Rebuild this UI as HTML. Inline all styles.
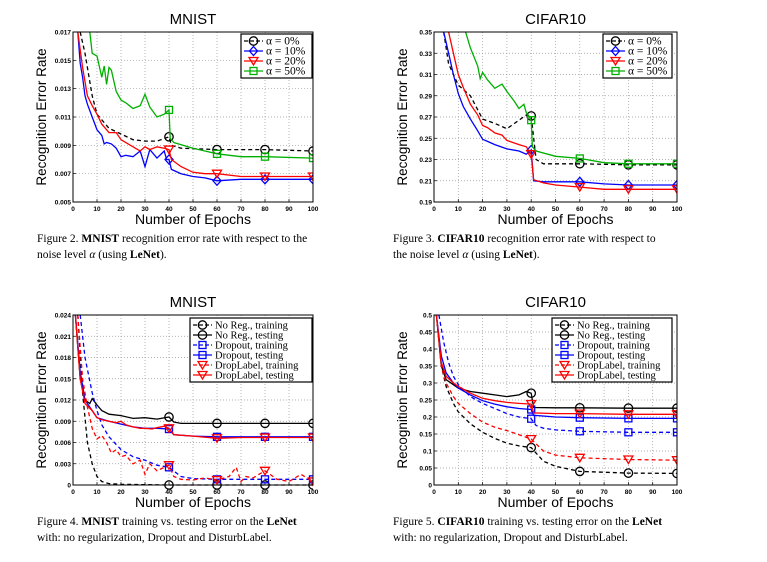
<!DOCTYPE html>
<html><head><meta charset="utf-8"><style>
body{margin:0;background:#fff;width:767px;height:557px;overflow:hidden;font-family:"Liberation Sans",sans-serif}
svg text{font-family:"Liberation Sans",sans-serif}
svg text.ser{font-family:"Liberation Serif",serif}
.cap{font-family:"Liberation Serif",serif;font-size:11.5px}
</style></head><body>
<svg id="s" width="767" height="557">
<text class="cap ser" x="37" y="242">Figure 2.  <tspan font-weight="bold">MNIST</tspan> recognition error rate with respect to the</text>
<text class="cap ser" x="37" y="258">noise level <tspan font-style="italic">α</tspan> (using <tspan font-weight="bold">LeNet</tspan>).</text>
<text class="cap ser" x="393" y="242">Figure 3.  <tspan font-weight="bold">CIFAR10</tspan> recognition error rate with respect to</text>
<text class="cap ser" x="393" y="258">the noise level <tspan font-style="italic">α</tspan> (using <tspan font-weight="bold">LeNet</tspan>).</text>
<text class="cap ser" x="37" y="525">Figure 4.  <tspan font-weight="bold">MNIST</tspan> training vs. testing error on the <tspan font-weight="bold">LeNet</tspan></text>
<text class="cap ser" x="37" y="541">with: no regularization, Dropout and DisturbLabel.</text>
<text class="cap ser" x="393" y="525">Figure 5.  <tspan font-weight="bold">CIFAR10</tspan> training vs. testing error on the <tspan font-weight="bold">LeNet</tspan></text>
<text class="cap ser" x="393" y="541">with: no regularization, Dropout and DisturbLabel.</text>
</svg>
<script>
// ---- Chart 1 data (MNIST, noise level) ----
const c1Ticks=["0.005","0.007","0.009","0.011","0.013","0.015","0.017"];
const c1x0=[3,5,8,10,15,20,25,30,35,40,41,45,60,80,100];
const c1y0=[0.017,0.0155,0.0125,0.0112,0.0102,0.0098,0.0094,0.0093,0.0093,0.0096,0.0090,0.0088,0.0087,0.0087,0.0086];
const c1x10=[2,3,4,5,6,8,10,12,13,14,16,18,20,22,25,28,30,32,35,38,39,40,41,45,50,55,60,70,80,100];
const c1y10=[0.017,0.0148,0.0138,0.0125,0.0119,0.011,0.0101,0.0097,0.0091,0.0092,0.0091,0.0088,0.0082,0.0083,0.0082,0.0086,0.0075,0.0087,0.0081,0.0086,0.0080,0.0080,0.0073,0.0070,0.0068,0.0067,0.0065,0.0066,0.0066,0.0066];
const c1x20=[2,4,6,8,10,12,15,18,20,25,28,30,32,35,38,40,41,45,50,55,60,70,80,100];
const c1y20=[0.017,0.0145,0.0125,0.0118,0.0112,0.0105,0.0099,0.0099,0.0094,0.0089,0.0086,0.0089,0.0087,0.0089,0.0088,0.0087,0.0080,0.0075,0.0071,0.0070,0.0070,0.0068,0.0068,0.0068];
const c1x50=[7,8,10,12,13,14,15,16,18,20,22,25,28,30,32,35,38,40,40.5,42,50,55,60,70,80,100];
const c1y50=[0.017,0.0155,0.0153,0.0138,0.0146,0.0133,0.0145,0.0143,0.0128,0.0122,0.0120,0.0116,0.0118,0.0126,0.0117,0.0110,0.0112,0.0115,0.0095,0.0092,0.0088,0.0086,0.0084,0.0082,0.0082,0.0081];
// ---- Chart 2 data (CIFAR10, noise level) ----
const c2Ticks=["0.19","0.21","0.23","0.25","0.27","0.29","0.31","0.33","0.35"];
const c2x0=[4,6,10,15,20,25,30,35,38,40,42,45,60,80,100];
const c2y0=[0.35,0.32,0.300,0.290,0.268,0.264,0.259,0.267,0.272,0.271,0.230,0.226,0.226,0.225,0.225];
const c2x10=[4,6,8,10,12,15,18,20,22,25,30,35,38,40,41,45,50,60,70,80,100];
const c2y10=[0.35,0.33,0.31,0.292,0.280,0.268,0.257,0.249,0.247,0.244,0.240,0.238,0.235,0.239,0.210,0.209,0.209,0.209,0.207,0.206,0.206];
const c2x20=[6,8,10,12,15,18,20,22,25,28,30,35,38,40,41,45,50,60,70,80,100];
const c2y20=[0.35,0.33,0.31,0.298,0.282,0.272,0.262,0.260,0.255,0.253,0.248,0.244,0.242,0.235,0.211,0.208,0.206,0.204,0.202,0.202,0.202];
const c2x50=[13,15,18,19,20,22,25,28,30,33,35,37,38,40,40.5,42,50,60,70,80,100];
const c2y50=[0.35,0.335,0.318,0.306,0.312,0.305,0.297,0.301,0.294,0.285,0.278,0.282,0.274,0.267,0.242,0.238,0.233,0.231,0.227,0.226,0.226];
// ---- Chart 3 data (MNIST train vs test) ----
const c3Ticks=["0","0.003","0.006","0.009","0.012","0.015","0.018","0.021","0.024"];
const c3xNRtr=[2,4,6,8,10,12,15,20,40,60,80,100];
const c3yNRtr=[0.024,0.013,0.006,0.003,0.0012,0.0005,0.0002,0.0001,0,0,0,0];
const c3xNRte=[1,3,5,7,8,10,12,15,20,25,30,35,40,42,45,60,80,100];
const c3yNRte=[0.024,0.015,0.012,0.0115,0.0122,0.0113,0.0105,0.010,0.0098,0.0094,0.0095,0.0093,0.0096,0.0089,0.0087,0.0087,0.0087,0.0087];
const c3xDOtr=[3,5,8,10,12,15,20,25,30,35,40,45,50,60,70,80,90,100];
const c3yDOtr=[0.024,0.018,0.013,0.0105,0.0085,0.0068,0.005,0.004,0.0035,0.0028,0.0025,0.0012,0.0009,0.0008,0.0008,0.0008,0.0008,0.0008];
const c3xDOte=[1,3,5,8,10,12,15,20,25,30,35,40,42,50,60,80,100];
const c3yDOte=[0.024,0.016,0.012,0.0105,0.0095,0.0093,0.009,0.0086,0.0082,0.008,0.008,0.0079,0.0071,0.0069,0.0068,0.0068,0.0068];
const c3xDLtr=[2,4,6,8,10,12,14,16,18,20,22,25,28,30,32,35,38,40,42,45,50,55,60,65,68,70,72,75,80,85,90,95,100];
const c3yDLtr=[0.024,0.015,0.011,0.008,0.0065,0.007,0.006,0.0045,0.005,0.004,0.0042,0.003,0.0035,0.0015,0.003,0.002,0.0025,0.0028,0.0012,0.0008,0.0007,0.001,0.0007,0.0012,0.0025,0.0005,0.0012,0.001,0.002,0.0008,0.0005,0.0015,0.0005];
const c3xDLte=[1,3,5,8,10,12,15,18,20,22,25,28,30,33,35,38,40,42,50,60,70,80,100];
const c3yDLte=[0.024,0.015,0.0115,0.0105,0.0095,0.0092,0.0090,0.0088,0.0090,0.0085,0.0082,0.0080,0.0080,0.0079,0.0081,0.0083,0.0080,0.0071,0.0069,0.0066,0.0067,0.0067,0.0067];
// ---- Chart 4 data (CIFAR10 train vs test) ----
const c4Ticks=["0","0.05","0.1","0.15","0.2","0.25","0.3","0.35","0.4","0.45","0.5"];
const c4xNRtr=[1,3,5,8,10,15,20,25,30,35,40,45,50,60,80,100];
const c4yNRtr=[0.5,0.35,0.29,0.24,0.215,0.18,0.155,0.137,0.123,0.115,0.11,0.07,0.055,0.04,0.035,0.034];
const c4xNRte=[1,3,5,8,10,15,20,25,30,35,38,40,41,50,60,80,100];
const c4yNRte=[0.5,0.35,0.31,0.295,0.285,0.275,0.27,0.265,0.26,0.265,0.275,0.27,0.228,0.227,0.227,0.226,0.226];
const c4xDOtr=[2,4,6,8,10,15,20,25,30,35,40,42,45,50,60,80,100];
const c4yDOtr=[0.5,0.42,0.36,0.32,0.295,0.26,0.24,0.225,0.21,0.2,0.195,0.175,0.167,0.162,0.158,0.155,0.155];
const c4xDOte=[1,3,5,8,10,15,20,25,30,35,40,41,50,60,80,100];
const c4yDOte=[0.5,0.38,0.33,0.3,0.285,0.265,0.248,0.238,0.23,0.225,0.222,0.205,0.2,0.198,0.196,0.196];
const c4xDLtr=[1,3,5,8,10,15,20,25,30,35,40,45,50,60,80,100];
const c4yDLtr=[0.5,0.35,0.3,0.26,0.24,0.21,0.185,0.17,0.16,0.148,0.135,0.1,0.088,0.08,0.075,0.073];
const c4xDLte=[1,3,5,8,10,15,20,25,30,35,40,41,50,60,80,100];
const c4yDLte=[0.5,0.36,0.32,0.30,0.29,0.27,0.255,0.248,0.243,0.24,0.238,0.212,0.21,0.21,0.208,0.208];
const xTicks=[0,10,20,30,40,50,60,70,80,90,100];
const markerX=[40,60,80,100];

const NS="http://www.w3.org/2000/svg";
const svg=document.getElementById('s');
function mk(tag,attrs,parent){const e=document.createElementNS(NS,tag);for(const k in attrs)e.setAttribute(k,attrs[k]);(parent||svg).appendChild(e);return e;}
function interp(xs,ys,x){for(let i=1;i<xs.length;i++){if(x<=xs[i]){const t=(x-xs[i-1])/(xs[i]-xs[i-1]);return ys[i-1]+t*(ys[i]-ys[i-1]);}}return ys[ys.length-1];}
function marker(g,type,cx,cy,color){
  let e;
  if(type==='o'){e=mk('circle',{cx:cx,cy:cy,r:4.2,fill:'none',stroke:color,'stroke-width':1.3},g);}
  else if(type==='d'){e=mk('polygon',{points:`${cx},${cy-4.5} ${cx+4},${cy} ${cx},${cy+4.5} ${cx-4},${cy}`,fill:'none',stroke:color,'stroke-width':1.3},g);}
  else if(type==='v'){e=mk('polygon',{points:`${cx-4.5},${cy-3.5} ${cx+4.5},${cy-3.5} ${cx},${cy+4}`,fill:'none',stroke:color,'stroke-width':1.3},g);}
  else {e=mk('rect',{x:cx-3.5,y:cy-3.5,width:7,height:7,fill:'none',stroke:color,'stroke-width':1.3},g);}
  return e;
}
function chart(o){
  const g=mk('g',{});
  
  
  const L=o.L,R=o.R,T=o.T,B=o.B;
  const sx=v=>L+(v/100)*(R-L);
  const sy=v=>B-(v-o.ymin)/(o.ymax-o.ymin)*(B-T);
  const title=mk('text',{x:(L+R)/2,y:T-8,'text-anchor':'middle','font-size':15},g);title.textContent=o.title;
  
  
  mk('rect',{x:L,y:T,width:R-L,height:B-T,fill:'#fff'},g);
  xTicks.forEach(t=>{
    const x=sx(t);
    if(t>0&&t<100)mk('line',{x1:x,y1:T,x2:x,y2:B,stroke:'#999','stroke-width':0.7,'stroke-dasharray':'1,2'},g);
    mk('line',{x1:x,y1:B,x2:x,y2:B-3,stroke:'#000','stroke-width':0.7},g);
    const tx=mk('text',{x:x,y:B+9,'text-anchor':'middle','font-size':6.5,'font-weight':'bold'},g);tx.textContent=t;
    
    
  });
  o.ticks.forEach(lab=>{
    const v=parseFloat(lab);const y=sy(v);
    if(v>o.ymin&&v<o.ymax)mk('line',{x1:L,y1:y,x2:R,y2:y,stroke:'#999','stroke-width':0.7,'stroke-dasharray':'1,2'},g);
    mk('line',{x1:L,y1:y,x2:L+3,y2:y,stroke:'#000','stroke-width':0.7},g);
    const ty=mk('text',{x:L-2,y:y+2.5,'text-anchor':'end','font-size':6.5,'font-weight':'bold'},g);ty.textContent=lab;
    
    
  });
  const cp=mk('clipPath',{id:o.name+'-clip'},g);mk('rect',{x:L,y:T,width:R-L,height:B-T+5},cp);
  const pg=mk('g',{'clip-path':`url(#${o.name}-clip)`},g);
  o.series.forEach(s=>{
    const pts=s.x.map((x,i)=>sx(x).toFixed(1)+','+sy(s.y[i]).toFixed(1)).join(' ');
    const pl=mk('polyline',{points:pts,fill:'none',stroke:s.c,'stroke-width':1.3,'stroke-dasharray':s.dash?'4,3':'none'},pg);
    
    
    markerX.forEach(mx=>{
      const m=marker(pg,s.m,sx(mx),sy(interp(s.x,s.y,mx)),s.c);
      
      
    });
  });
  mk('rect',{x:L,y:T,width:R-L,height:B-T,fill:'none',stroke:'#000','stroke-width':1},g);
  const xl=mk('text',{x:(L+R)/2,y:B+22,'text-anchor':'middle','font-size':14},g);xl.textContent='Number of Epochs';
  
  
  const yl=mk('text',{x:0,y:0,'text-anchor':'middle','font-size':13.5,transform:`translate(${L-27},${(T+B)/2}) rotate(-90)`},g);yl.textContent='Recognition Error Rate';
  
  
  const lg=mk('g',{},g);
  
  
  const lh=o.series.length*o.lstep+4;
  mk('rect',{x:o.lx,y:o.ly,width:o.lw,height:lh,fill:'#fff',stroke:'#000','stroke-width':1.2},lg);
  o.series.forEach((s,i)=>{
    const y=o.ly+7+i*o.lstep;
    const le=mk('g',{},lg);
    
    
    mk('line',{x1:o.lx+3,y1:y,x2:o.lx+22,y2:y,stroke:s.c,'stroke-width':1.3,'stroke-dasharray':s.dash?'4,2':'none'},le);
    marker(le,s.m,o.lx+12.5,y,s.c);
    const t=mk('text',{x:o.lx+25,y:y+3.5,'font-size':o.lfs,'class':'ser'},le);
    t.textContent=s.label;
  });
}
chart({name:'chart-mnist-noise',title:'MNIST',L:73,R:313,T:32,B:202,ymin:0.005,ymax:0.017,ticks:c1Ticks,lx:241,ly:34,lw:71,lstep:10,lfs:11.5,
 series:[{id:'a0',label:'α = 0%',x:c1x0,y:c1y0,c:'#000',dash:1,m:'o'},{id:'a10',label:'α = 10%',x:c1x10,y:c1y10,c:'#0000ff',m:'d'},{id:'a20',label:'α = 20%',x:c1x20,y:c1y20,c:'#ff0000',m:'v'},{id:'a50',label:'α = 50%',x:c1x50,y:c1y50,c:'#00b000',m:'s'}]});
chart({name:'chart-cifar10-noise',title:'CIFAR10',L:434,R:677,T:32,B:202,ymin:0.19,ymax:0.35,ticks:c2Ticks,lx:603,ly:34,lw:69,lstep:10,lfs:11.5,
 series:[{id:'a0',label:'α = 0%',x:c2x0,y:c2y0,c:'#000',dash:1,m:'o'},{id:'a10',label:'α = 10%',x:c2x10,y:c2y10,c:'#0000ff',m:'d'},{id:'a20',label:'α = 20%',x:c2x20,y:c2y20,c:'#ff0000',m:'v'},{id:'a50',label:'α = 50%',x:c2x50,y:c2y50,c:'#00b000',m:'s'}]});
chart({name:'chart-mnist-train-test',title:'MNIST',L:73,R:313,T:315,B:485,ymin:0,ymax:0.024,ticks:c3Ticks,lx:190,ly:318,lw:122,lstep:10,lfs:10.5,
 series:[{id:'noreg-train',label:'No Reg., training',x:c3xNRtr,y:c3yNRtr,c:'#000',dash:1,m:'o'},{id:'noreg-test',label:'No Reg., testing',x:c3xNRte,y:c3yNRte,c:'#000',m:'o'},{id:'dropout-train',label:'Dropout, training',x:c3xDOtr,y:c3yDOtr,c:'#0000ff',dash:1,m:'s'},{id:'dropout-test',label:'Dropout, testing',x:c3xDOte,y:c3yDOte,c:'#0000ff',m:'s'},{id:'droplabel-train',label:'DropLabel, training',x:c3xDLtr,y:c3yDLtr,c:'#ff0000',dash:1,m:'v'},{id:'droplabel-test',label:'DropLabel, testing',x:c3xDLte,y:c3yDLte,c:'#ff0000',m:'v'}]});
chart({name:'chart-cifar10-train-test',title:'CIFAR10',L:434,R:677,T:315,B:485,ymin:0,ymax:0.5,ticks:c4Ticks,lx:552,ly:318,lw:120,lstep:10,lfs:10.5,
 series:[{id:'noreg-train',label:'No Reg., training',x:c4xNRtr,y:c4yNRtr,c:'#000',dash:1,m:'o'},{id:'noreg-test',label:'No Reg., testing',x:c4xNRte,y:c4yNRte,c:'#000',m:'o'},{id:'dropout-train',label:'Dropout, training',x:c4xDOtr,y:c4yDOtr,c:'#0000ff',dash:1,m:'s'},{id:'dropout-test',label:'Dropout, testing',x:c4xDOte,y:c4yDOte,c:'#0000ff',m:'s'},{id:'droplabel-train',label:'DropLabel, training',x:c4xDLtr,y:c4yDLtr,c:'#ff0000',dash:1,m:'v'},{id:'droplabel-test',label:'DropLabel, testing',x:c4xDLte,y:c4yDLte,c:'#ff0000',m:'v'}]});
</script>
</body></html>
